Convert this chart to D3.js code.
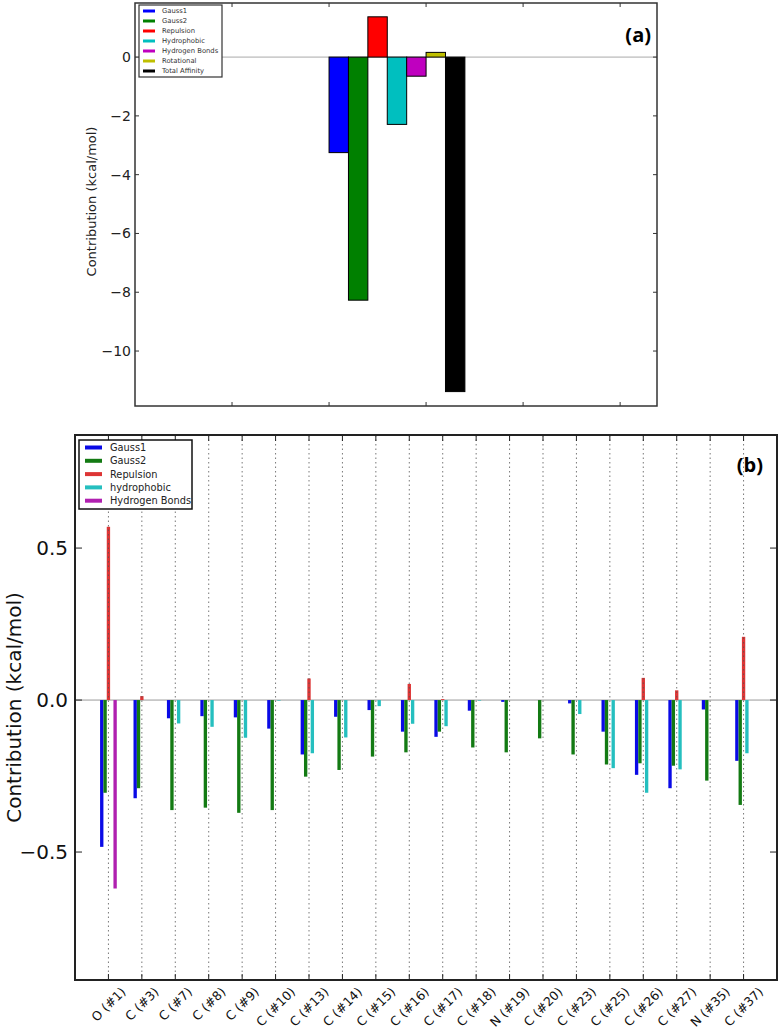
<!DOCTYPE html>
<html>
<head>
<meta charset="utf-8">
<script src="https://cdn.jsdelivr.net/npm/d3@7"></script>
<style>
  html, body { margin: 0; padding: 0; background: #fff; }
  svg { display: block; font-family: "DejaVu Sans", sans-serif; }
</style>
</head>
<body>
<svg id="chart" width="780" height="1029"></svg>
<script>
// ---------- Panel (a) data ----------
const termsA = ["Gauss1", "Gauss2", "Repulsion", "Hydrophobic", "Hydrogen Bonds", "Rotational", "Total Affinity"];
const valuesA = [-3.25, -8.27, 1.37, -2.29, -0.65, 0.16, -11.38];
const colorsA = ["#0000ff", "#008000", "#ff0000", "#00bfbf", "#bf00bf", "#bfbf00", "#000000"];
const yTicksA = [0, -2, -4, -6, -8, -10];
const xTicksA = [1, 2, 3, 4, 5];

// ---------- Panel (b) data ----------
const atomsB = ["O (#1)", "C (#3)", "C (#7)", "C (#8)", "C (#9)", "C (#10)", "C (#13)", "C (#14)", "C (#15)", "C (#16)",
  "C (#17)", "C (#18)", "N (#19)", "C (#20)", "C (#23)", "C (#25)", "C (#26)", "C (#27)", "N (#35)", "C (#37)"];
const gauss1B = [-0.483, -0.323, -0.060, -0.053, -0.057, -0.094, -0.179, -0.055, -0.033, -0.104,
  -0.121, -0.035, -0.006, 0, -0.011, -0.104, -0.246, -0.290, -0.031, -0.200];
const gauss2B = [-0.305, -0.290, -0.362, -0.354, -0.371, -0.362, -0.252, -0.230, -0.186, -0.172,
  -0.104, -0.156, -0.172, -0.126, -0.179, -0.212, -0.208, -0.216, -0.265, -0.345];
const repulsionB = [0.570, 0.013, 0, 0, 0, 0, 0.071, 0, 0, 0.053,
  0.003, 0, 0, 0, 0, 0, 0.073, 0.032, 0, 0.208];
const hydrophobicB = [0, 0, -0.077, -0.088, -0.124, -0.002, -0.175, -0.123, -0.020, -0.078,
  -0.086, -0.002, 0, 0, -0.046, -0.224, -0.305, -0.228, 0, -0.175];
const hbondB = [-0.620, 0, 0, 0, 0, 0, 0, 0, 0, 0, 0, 0, 0, 0, 0, 0, 0, 0, 0, 0];
const seriesNamesB = ["Gauss1", "Gauss2", "Repulsion", "hydrophobic", "Hydrogen Bonds"];
const colorsB = ["#0a0ae6", "#137a13", "#dd3535", "#25bfbf", "#b020b0"];
const offsetsB = [-0.2, -0.1, 0, 0.1, 0.2];
const yTicksB = [0.5, 0.0, -0.5];

const svg = d3.select("#chart");
const minus = s => String(s).replace("-", "\u2212");

// ================= Panel (a) =================
(function () {
  const L = 135, R = 657, T = 3, B = 406;
  const x = d3.scaleLinear().domain([0, 5.38]).range([L, R]);
  const y = d3.scaleLinear().domain([-11.87, 1.84]).range([B, T]);
  const g = svg.append("g");

  g.append("line").attr("x1", L).attr("x2", R).attr("y1", y(0)).attr("y2", y(0))
    .attr("stroke", "#aaaaaa").attr("stroke-width", 1);

  g.selectAll("rect.a").data(valuesA).enter().append("rect")
    .attr("x", (d, i) => x(2 + i * 0.2))
    .attr("width", x(0.2) - x(0))
    .attr("y", d => y(Math.max(0, d)))
    .attr("height", d => Math.abs(y(d) - y(0)))
    .attr("fill", (d, i) => colorsA[i])
    .attr("stroke", "#000").attr("stroke-width", 1);

  g.append("rect").attr("x", L).attr("y", T).attr("width", R - L).attr("height", B - T)
    .attr("fill", "none").attr("stroke", "#333").attr("stroke-width", 1.5);

  yTicksA.forEach(t => {
    g.append("line").attr("x1", L).attr("x2", L + 4).attr("y1", y(t)).attr("y2", y(t)).attr("stroke", "#333");
    g.append("line").attr("x1", R).attr("x2", R - 4).attr("y1", y(t)).attr("y2", y(t)).attr("stroke", "#333");
    g.append("text").attr("x", L - 4).attr("y", y(t)).attr("text-anchor", "end")
      .attr("dominant-baseline", "central").attr("font-size", 14).attr("fill", "#222").text(minus(t));
  });
  xTicksA.forEach(t => {
    g.append("line").attr("x1", x(t)).attr("x2", x(t)).attr("y1", B).attr("y2", B - 4).attr("stroke", "#333");
    g.append("line").attr("x1", x(t)).attr("x2", x(t)).attr("y1", T).attr("y2", T + 4).attr("stroke", "#333");
  });

  g.append("text").attr("transform", `translate(91,${(T + B) / 2 - 3}) rotate(-90)`)
    .attr("text-anchor", "middle").attr("dominant-baseline", "central")
    .attr("font-size", 13).attr("fill", "#222").text("Contribution (kcal/mol)");

  g.append("text").attr("x", 651).attr("y", 34).attr("text-anchor", "end").attr("dominant-baseline", "central")
    .attr("font-family", "Open Sans, DejaVu Sans, sans-serif")
    .attr("font-size", 20).attr("font-weight", "bold").attr("fill", "#000").text("(a)");

  const lx = 139, ly = 5, lw = 83, lh = 72;
  g.append("rect").attr("x", lx).attr("y", ly).attr("width", lw).attr("height", lh)
    .attr("fill", "#fff").attr("stroke", "#333").attr("stroke-width", 1.2);
  termsA.forEach((n, i) => {
    const yy = ly + 6 + i * 10;
    g.append("line").attr("x1", lx + 4).attr("x2", lx + 16).attr("y1", yy).attr("y2", yy)
      .attr("stroke", colorsA[i]).attr("stroke-width", 3);
    g.append("text").attr("x", lx + 23).attr("y", yy).attr("dominant-baseline", "central")
      .attr("font-size", 6.8).attr("fill", "#333").text(n);
  });
})();

// ================= Panel (b) =================
(function () {
  const L = 75, R = 777, T = 435, B = 980;
  const x = d3.scaleLinear().domain([-1, 20]).range([L, R]);
  const y = d3.scaleLinear().domain([-0.921, 0.872]).range([B, T]);
  const g = svg.append("g");
  const seriesB = [gauss1B, gauss2B, repulsionB, hydrophobicB, hbondB];

  g.append("line").attr("x1", L).attr("x2", R).attr("y1", y(0)).attr("y2", y(0))
    .attr("stroke", "#999").attr("stroke-width", 1);

  const bw = x(0.1) - x(0);
  seriesB.forEach((vals, s) => {
    g.selectAll(null).data(vals).enter().append("rect")
      .attr("x", (d, i) => x(i + offsetsB[s] - 0.05))
      .attr("width", bw)
      .attr("y", d => y(Math.max(0, d)))
      .attr("height", d => Math.abs(y(d) - y(0)))
      .attr("fill", colorsB[s]);
  });

  atomsB.forEach((a, i) => {
    g.append("line").attr("x1", x(i)).attr("x2", x(i)).attr("y1", T).attr("y2", B)
      .attr("stroke", "#555").attr("stroke-width", 0.8).attr("stroke-dasharray", "1.5,3");
  });

  g.append("rect").attr("x", L).attr("y", T).attr("width", R - L).attr("height", B - T)
    .attr("fill", "none").attr("stroke", "#222").attr("stroke-width", 2);

  yTicksB.forEach(t => {
    g.append("line").attr("x1", L).attr("x2", L + 7).attr("y1", y(t)).attr("y2", y(t)).attr("stroke", "#222");
    g.append("line").attr("x1", R).attr("x2", R - 7).attr("y1", y(t)).attr("y2", y(t)).attr("stroke", "#222");
    g.append("text").attr("x", L - 7).attr("y", y(t)).attr("text-anchor", "end")
      .attr("dominant-baseline", "central").attr("font-size", 20).attr("fill", "#111")
      .text(minus(t.toFixed(1)));
  });

  atomsB.forEach((a, i) => {
    g.append("line").attr("x1", x(i)).attr("x2", x(i)).attr("y1", B).attr("y2", B - 6).attr("stroke", "#222");
    g.append("line").attr("x1", x(i)).attr("x2", x(i)).attr("y1", T).attr("y2", T + 6).attr("stroke", "#222");
    const t = g.append("text").attr("text-anchor", "middle").attr("dominant-baseline", "central")
      .attr("font-size", 12.5).attr("fill", "#111").text(a);
    const len = t.node().getComputedTextLength();
    const h = (len + 12.5) * Math.SQRT1_2;
    t.attr("transform", `translate(${x(i)},${B + 5 + h / 2}) rotate(-45)`);
  });

  g.append("text").attr("transform", `translate(14,${(T + B) / 2}) rotate(-90)`)
    .attr("text-anchor", "middle").attr("dominant-baseline", "central")
    .attr("font-size", 20).attr("fill", "#111").text("Contribution (kcal/mol)");

  g.append("text").attr("x", 763).attr("y", 464).attr("text-anchor", "end").attr("dominant-baseline", "central")
    .attr("font-family", "Open Sans, DejaVu Sans, sans-serif")
    .attr("font-size", 20).attr("font-weight", "bold").attr("fill", "#000").text("(b)");

  const lx = 79, ly = 440, lw = 113, lh = 69;
  g.append("rect").attr("x", lx).attr("y", ly).attr("width", lw).attr("height", lh)
    .attr("fill", "#fff").attr("stroke", "#111").attr("stroke-width", 1.5);
  seriesNamesB.forEach((n, i) => {
    const yy = ly + 7.5 + i * 13.3;
    g.append("line").attr("x1", lx + 6).attr("x2", lx + 23).attr("y1", yy).attr("y2", yy)
      .attr("stroke", colorsB[i]).attr("stroke-width", 4);
    g.append("text").attr("x", lx + 31).attr("y", yy).attr("dominant-baseline", "central")
      .attr("font-size", 9.8).attr("fill", "#222").text(n);
  });
})();
</script>
</body>
</html>
